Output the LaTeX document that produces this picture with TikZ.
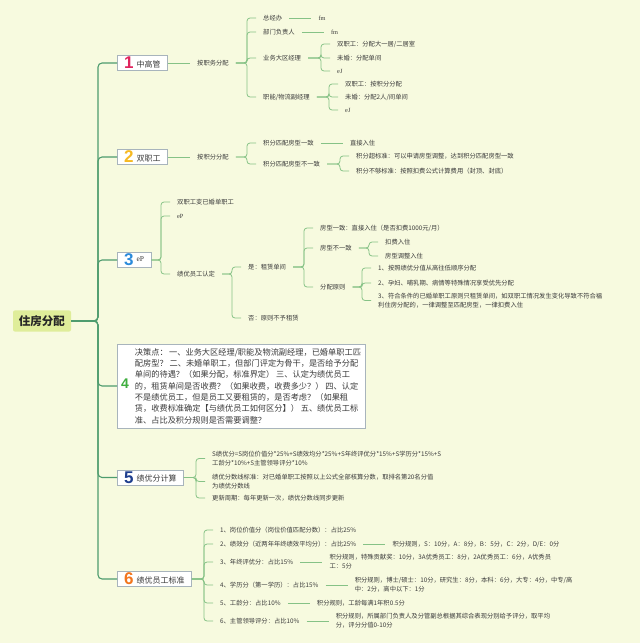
\documentclass[tikz,border=0pt]{standalone}
\usepackage{fontspec}
\setmainfont{Noto Sans CJK SC}
\newfontfamily\numfont{Liberation Sans}
\newfontfamily\latfont{Liberation Serif}
\usetikzlibrary{positioning}

\definecolor{bgc}{HTML}{F7FADF}
\definecolor{rootc}{HTML}{DFED9A}
\definecolor{trunkc}{HTML}{4E9C6E}
\definecolor{linkc}{HTML}{86C286}
\definecolor{boxc}{HTML}{A8B4BC}
\definecolor{txtc}{HTML}{3A3A3A}
\definecolor{n1}{HTML}{E0245E}
\definecolor{n2}{HTML}{F6B922}
\definecolor{n3}{HTML}{2B8BDB}
\definecolor{n4}{HTML}{3FAE3F}
\definecolor{n5}{HTML}{1E3E8E}
\definecolor{n6}{HTML}{F2761E}

\newcommand{\topicnum}[3][17]{{\numfont\bfseries\fontsize{#1}{#1}\selectfont\color{#2}#3}}
\newcommand{\lat}[1]{{\latfont #1}}
\newcommand{\topictext}[1]{\raisebox{1.8pt}{#1}}

\begin{document}
\begin{tikzpicture}[x=1pt,y=-1pt,node distance=22pt,
  leaf/.style={anchor=west,align=left,inner xsep=7pt,inner ysep=1pt,text=txtc,font=\fontsize{6.3}{9}\selectfont},
  topic/.style={anchor=west,draw=boxc,fill=white,inner xsep=7pt,inner ysep=1.5pt,text=txtc,font=\fontsize{8}{10}\selectfont},
  link/.style={draw=linkc,line width=0.8pt,rounded corners=3pt},
  trunk/.style={draw=trunkc,line width=1.1pt,rounded corners=4pt}]
\useasboundingbox (0,0) rectangle (640,643);
\fill[bgc] (0,0) rectangle (640,643);

% root
\node[fill=rootc,rounded corners=2pt,inner xsep=6pt,inner ysep=5pt,text=black!85,
  font=\bfseries\fontsize{11.5}{12}\selectfont] (root) at (42,321) {住房分配};

% main topics
\node[topic] (m1) at (117,63) {\topicnum{n1}{1}\hspace{3pt}\topictext{中高管}};
\node[topic] (m2) at (117,157) {\topicnum{n2}{2}\hspace{3pt}\topictext{双职工}};
\node[topic] (m3) at (117,260) {\topicnum{n3}{3}\hspace{3pt}\raisebox{4pt}{\fontsize{7.5}{8}\selectfont\lat{eP}}};
\node[topic,inner xsep=4pt,inner ysep=4pt] (m4) at (117,386) {\topicnum[14]{n4}{4}\hspace{6pt}%
  \parbox[c]{226pt}{\fontsize{8.2}{11.3}\selectfont
  决策点： 一、业务大区经理/职能及物流副经理，已婚单职工匹\\
  配房型？ 二、未婚单职工，但部门评定为骨干，是否给予分配\\
  单间的待遇？（如果分配，标准界定） 三、认定为绩优员工\\
  的，租赁单间是否收费？（如果收费，收费多少？） 四、认定\\
  不是绩优员工，但是员工又要租赁的，是否考虑？（如果租\\
  赁，收费标准确定【与绩优员工如何区分】） 五、绩优员工标\\
  准、占比及积分规则是否需要调整？}};
\node[topic] (m5) at (117,477.5) {\topicnum{n5}{5}\hspace{3pt}\topictext{绩优分计算}};
\node[topic] (m6) at (117,579) {\topicnum{n6}{6}\hspace{3pt}\topictext{绩优员工标准}};

\foreach \m in {m1,m2,m3,m4,m5,m6}
  \draw[trunk] (root.east) -| ([xshift=-19pt]\m.west) -- (\m.west);

% 1 中高管
\node[leaf] (a1) at (190,63) {按职务分配};
\node[leaf] (a11) at (256,18) {总经办};
\node[leaf,right=of a11] (a11r) {\lat{fm}};
\node[leaf] (a12) at (256,32) {部门负责人};
\node[leaf,right=of a12] (a12r) {\lat{fm}};
\node[leaf] (a13) at (256,58) {业务大区经理};
\node[leaf] (a131) at (330,44) {双职工：分配大一居/二居室};
\node[leaf] (a132) at (330,58) {未婚：分配单间};
\node[leaf] (a133) at (330,71) {\lat{eJ}};
\node[leaf] (a14) at (256,97) {职能/物流副经理};
\node[leaf] (a141) at (338,84) {双职工：按积分分配};
\node[leaf] (a142) at (338,97) {未婚：分配2人/间单间};
\node[leaf] (a143) at (338,110) {\lat{eJ}};
\draw[link] (m1.east) -- (a1.west);
\foreach \c in {a11,a12,a13,a14}
  \draw[link] (a1.east) -| ([xshift=-9pt]\c.west) -- (\c.west);
\draw[link] (a11.east) -- (a11r.west);
\draw[link] (a12.east) -- (a12r.west);
\foreach \c in {a131,a132,a133}
  \draw[link] (a13.east) -| ([xshift=-9pt]\c.west) -- (\c.west);
\foreach \c in {a141,a142,a143}
  \draw[link] (a14.east) -| ([xshift=-9pt]\c.west) -- (\c.west);

% 2 双职工
\node[leaf] (b1) at (190,157) {按积分分配};
\node[leaf] (b11) at (256,143) {积分匹配房型一致};
\node[leaf,right=of b11] (b11r) {直接入住};
\node[leaf] (b12) at (256,164) {积分匹配房型不一致};
\node[leaf] (b121) at (349,156) {积分超标准：可以申请房型调整，达到积分匹配房型一致};
\node[leaf] (b122) at (349,171) {积分不够标准：按照扣费公式计算费用（封顶、封底）};
\draw[link] (m2.east) -- (b1.west);
\foreach \c in {b11,b12}
  \draw[link] (b1.east) -| ([xshift=-9pt]\c.west) -- (\c.west);
\draw[link] (b11.east) -- (b11r.west);
\foreach \c in {b121,b122}
  \draw[link] (b12.east) -| ([xshift=-9pt]\c.west) -- (\c.west);

% 3 eP
\node[leaf] (c1) at (170,202) {双职工变已婚单职工};
\node[leaf] (c2) at (170,216) {\lat{eP}};
\node[leaf] (c3) at (170,274) {绩优员工认定};
\node[leaf] (c31) at (241,267) {是：租赁单间};
\node[leaf] (c32) at (241,318) {否：原则不予租赁};
\node[leaf] (c311) at (313,228) {房型一致：直接入住（是否扣费1000元/月）};
\node[leaf] (c312) at (313,248) {房型不一致};
\node[leaf] (c313) at (313,287) {分配原则};
\node[leaf] (c3121) at (378,242) {扣费入住};
\node[leaf] (c3122) at (378,256) {房型调整入住};
\node[leaf] (c3131) at (371,268) {1、按照绩优分值从高往低顺序分配};
\node[leaf] (c3132) at (371,283) {2、孕妇、哺乳期、病情等特殊情况享受优先分配};
\node[leaf] (c3133) at (371,300.5) {3、符合条件的已婚单职工原则只租赁单间，如双职工情况发生变化导致不符合福\\利住房分配的，一律调整至匹配房型，一律扣费入住};
\foreach \c in {c1,c2,c3}
  \draw[link] (m3.east) -| ([xshift=-9pt]\c.west) -- (\c.west);
\foreach \c in {c31,c32}
  \draw[link] (c3.east) -| ([xshift=-9pt]\c.west) -- (\c.west);
\foreach \c in {c311,c312,c313}
  \draw[link] (c31.east) -| ([xshift=-9pt]\c.west) -- (\c.west);
\foreach \c in {c3121,c3122}
  \draw[link] (c312.east) -| ([xshift=-9pt]\c.west) -- (\c.west);
\foreach \c in {c3131,c3132,c3133}
  \draw[link] (c313.east) -| ([xshift=-9pt]\c.west) -- (\c.west);

% 5 绩优分计算
\node[leaf] (e1) at (205,458.5) {S绩优分=S岗位价值分*25\%+S绩效均分*25\%+S年终评优分*15\%+S学历分*15\%+S\\工龄分*10\%+S主管领导评分*10\%};
\node[leaf] (e2) at (205,481.5) {绩优分数线标准：对已婚单职工按照以上公式全部核算分数，取排名第20名分值\\为绩优分数线};
\node[leaf] (e3) at (205,498) {更新周期：每年更新一次，绩优分数线同步更新};
\foreach \c in {e1,e2,e3}
  \draw[link] (m5.east) -| ([xshift=-9pt]\c.west) -- (\c.west);

% 6 绩优员工标准
\node[leaf] (f1) at (213,530) {1、岗位价值分（岗位价值匹配分数）：占比25\%};
\node[leaf] (f2) at (213,544) {2、绩效分（近两年年终绩效平均分）：占比25\%};
\node[leaf,right=of f2] (f2r) {积分规则，S：10分，A：8分，B：5分，C：2分，D/E：0分};
\node[leaf] (f3) at (213,562) {3、年终评优分：占比15\%};
\node[leaf,right=of f3] (f3r) {积分规则，特殊贡献奖：10分，3A优秀员工：8分，2A优秀员工：6分，A优秀员\\工：5分};
\node[leaf] (f4) at (213,585) {4、学历分（第一学历）：占比15\%};
\node[leaf,right=of f4] (f4r) {积分规则，博士/硕士：10分，研究生：8分，本科：6分，大专：4分，中专/高\\中：2分，高中以下：1分};
\node[leaf] (f5) at (213,603) {5、工龄分：占比10\%};
\node[leaf,right=of f5] (f5r) {积分规则，工龄每满1年积0.5分};
\node[leaf] (f6) at (213,621) {6、主管领导评分：占比10\%};
\node[leaf,right=of f6] (f6r) {积分规则，所属部门负责人及分管副总根据其综合表现分别给予评分，取平均\\分，评分分值0-10分};
\foreach \c in {f1,f2,f3,f4,f5,f6}
  \draw[link] (m6.east) -| ([xshift=-9pt]\c.west) -- (\c.west);
\foreach \c in {f2,f3,f4,f5,f6}
  \draw[link] (\c.east) -- (\c r.west);
\end{tikzpicture}
\end{document}
